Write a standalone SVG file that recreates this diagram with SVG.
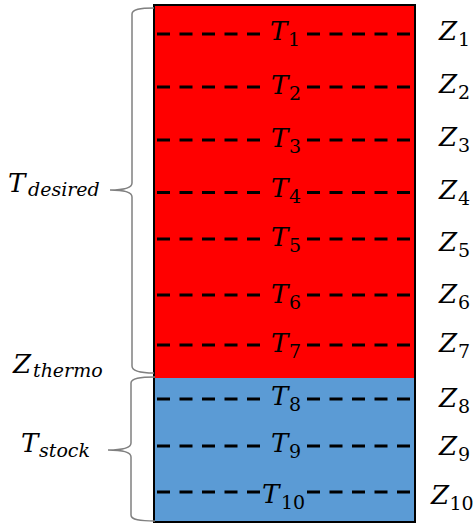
<svg xmlns="http://www.w3.org/2000/svg" width="474" height="525" viewBox="0 0 474 525">
<style>
.dash{stroke:#000;stroke-width:3;stroke-dasharray:13 9.5;fill:none}
.m{font-family:"DejaVu Serif","Liberation Serif",serif;font-style:italic;font-size:26px;fill:#000}
.s{font-family:"DejaVu Serif","Liberation Serif",serif;font-size:19px;fill:#000}
.si{font-family:"DejaVu Serif","Liberation Serif",serif;font-style:italic;font-size:19px;fill:#000}
.brace{fill:none;stroke:#808080;stroke-width:1.5}
</style>
<g id="tank">
<rect x="154" y="5" width="261" height="373" fill="#ff0000"/>
<rect x="154" y="378" width="261" height="144" fill="#5b9bd5"/>
<rect x="154" y="5" width="261" height="517" fill="none" stroke="#000" stroke-width="2"/>
</g>
<g id="layers">
<g id="layer1"><path class="dash" d="M157 34H260M307 34H410"/><text class="m" x="270" y="40">T</text><text class="s" x="288" y="46">1</text><text class="m" x="439" y="40">Z</text><text class="s" x="458" y="46">1</text></g>
<g id="layer2"><path class="dash" d="M157 87H260M307 87H410"/><text class="m" x="271" y="94">T</text><text class="s" x="289" y="100">2</text><text class="m" x="439" y="93">Z</text><text class="s" x="458" y="99">2</text></g>
<g id="layer3"><path class="dash" d="M157 140H260M307 140H410"/><text class="m" x="271" y="147">T</text><text class="s" x="289" y="153">3</text><text class="m" x="439" y="146">Z</text><text class="s" x="458" y="152">3</text></g>
<g id="layer4"><path class="dash" d="M157 192.5H260M307 192.5H410"/><text class="m" x="271" y="197">T</text><text class="s" x="289" y="203">4</text><text class="m" x="439" y="199">Z</text><text class="s" x="458" y="205">4</text></g>
<g id="layer5"><path class="dash" d="M157 239H260M307 239H410"/><text class="m" x="271" y="246">T</text><text class="s" x="289" y="252">5</text><text class="m" x="439" y="251">Z</text><text class="s" x="458" y="257">5</text></g>
<g id="layer6"><path class="dash" d="M157 295H260M307 295H410"/><text class="m" x="271" y="303">T</text><text class="s" x="289" y="309">6</text><text class="m" x="439" y="303">Z</text><text class="s" x="458" y="309">6</text></g>
<g id="layer7"><path class="dash" d="M157 345H260M307 345H410"/><text class="m" x="271" y="352">T</text><text class="s" x="289" y="358">7</text><text class="m" x="439" y="352">Z</text><text class="s" x="458" y="358">7</text></g>
<g id="layer8"><path class="dash" d="M157 399H260M307 399H410"/><text class="m" x="271" y="405">T</text><text class="s" x="289" y="411">8</text><text class="m" x="439" y="407">Z</text><text class="s" x="458" y="413">8</text></g>
<g id="layer9"><path class="dash" d="M157 446H260M307 446H410"/><text class="m" x="271" y="452">T</text><text class="s" x="289" y="458">9</text><text class="m" x="439" y="455">Z</text><text class="s" x="458" y="461">9</text></g>
<g id="layer10"><path class="dash" d="M157 492H260M307 492H410"/><text class="m" x="262" y="503">T</text><text class="s" x="281" y="509">10</text><text class="m" x="431" y="504">Z</text><text class="s" x="449.5" y="510">10</text></g>
</g>
<g id="connectors">
<path id="brace-desired" class="brace" d="M154 8C140 8 132 9 132 14L132 183C132 188 125 190 110 190C125 190 132 192 132 197L132 366C132 371 140 373 154 373"/>
<path id="brace-stock" class="brace" d="M155 377C140 377 131 378 131 383L131 443C131 448 124 450 108 450C124 450 131 452 131 457L131 515C131 520 140 521 155 521"/>
</g>
<g id="label-desired"><text class="m" x="8" y="192">T</text><text class="si" x="28" y="196">desired</text></g>
<g id="label-thermo"><text class="m" x="13" y="373">Z</text><text class="si" x="33" y="377">thermo</text></g>
<g id="label-stock"><text class="m" x="21" y="452">T</text><text class="si" x="39" y="457">stock</text></g>
</svg>
